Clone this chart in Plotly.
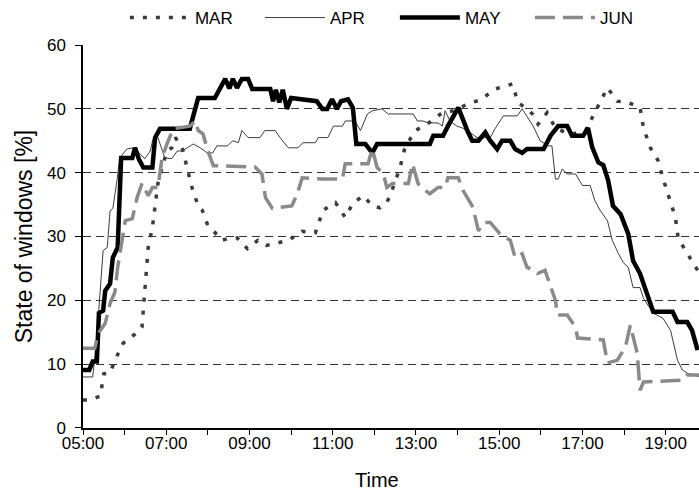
import plotly.graph_objects as go

# --- data (time of day, % of windows open) ---
mar_time = ["05:00", "05:10", "05:25", "05:30", "05:39", "05:46", "05:58", "06:15", "06:22", "06:25",
            "06:28", "06:31", "06:34", "06:40", "06:44", "06:48", "06:54", "07:01", "07:08", "07:13",
            "07:23", "07:30", "07:37", "07:46", "07:52", "08:00", "08:08", "08:20", "08:29", "08:42",
            "08:57", "09:12", "09:24", "09:37", "09:56", "10:16", "10:35", "10:46", "11:04", "11:18",
            "11:29", "11:44", "11:57", "12:08", "12:18", "12:27", "12:37", "12:44", "12:59", "13:16",
            "13:38", "13:54", "14:15", "14:33", "14:54", "15:19", "15:27", "15:40", "15:48", "15:56",
            "16:09", "16:21", "16:42", "17:04", "17:20", "17:36", "17:50", "18:06", "18:23", "18:28",
            "18:38", "18:49", "18:57", "19:07", "19:14", "19:18", "19:33", "19:46"]
mar_val = [4.4, 4.4, 5.0, 8.5, 8.6, 10.6, 13.3, 14.8, 15.3, 15.8,
           20.5, 25.2, 28.3, 31.4, 35.2, 38.3, 40.8, 43.4, 43.9, 45.5,
           43.9, 40.8, 37.7, 34.8, 34.1, 31.7, 30.9, 29.4, 29.7, 29.8,
           28.1, 29.4, 28.6, 28.9, 29.4, 30.8, 30.6, 34.1, 35.3, 33.0,
           35.2, 36.4, 34.8, 34.5, 35.3, 37.7, 40.8, 43.9, 46.6, 47.6,
           49.4, 49.7, 50.8, 51.4, 53.1, 53.9, 51.0, 50.0, 49.2, 47.6,
           49.4, 47.0, 46.0, 46.5, 50.0, 53.3, 51.2, 51.0, 50.2, 47.0,
           43.9, 41.9, 38.8, 35.6, 33.0, 29.7, 27.0, 24.7]

apr_time = ["05:00", "05:14", "05:17", "05:22", "05:29", "05:35", "05:39", "05:43", "05:49", "05:53",
            "06:03", "06:12", "06:22", "06:29", "06:37", "06:41", "06:48", "06:58", "07:08", "07:16",
            "07:23", "07:30", "07:39", "07:49", "07:59", "08:07", "08:13", "08:28", "08:36", "08:44",
            "08:49", "08:58", "09:15", "09:22", "09:37", "09:44", "09:56", "10:10", "10:17", "10:35",
            "10:39", "10:53", "11:01", "11:14", "11:18", "11:32", "11:40", "11:50", "11:57", "12:11",
            "12:20", "12:56", "13:02", "13:10", "13:18", "13:32", "13:38", "13:42", "13:49", "13:59",
            "14:07", "14:18", "14:28", "14:47", "14:54", "15:06", "15:26", "15:33", "15:40", "15:49",
            "15:59", "16:11", "16:16", "16:21", "16:25", "16:31", "16:38", "16:50", "17:00", "17:11",
            "17:18", "17:26", "17:36", "17:43", "17:52", "17:59", "18:06", "18:13", "18:23", "18:28",
            "18:42", "18:56", "19:07", "19:17", "19:24", "19:31", "19:49"]
apr_val = [8.0, 8.0, 11.1, 17.3, 27.8, 28.3, 34.0, 34.4, 38.8, 42.3,
           43.7, 43.9, 43.0, 42.2, 43.4, 45.3, 45.5, 42.3, 42.2, 43.4,
           43.4, 43.9, 44.5, 43.9, 43.1, 43.1, 44.2, 44.2, 45.0, 44.7,
           46.6, 45.5, 45.5, 46.6, 46.6, 45.5, 43.9, 43.9, 44.7, 44.7,
           45.5, 45.5, 47.3, 47.3, 48.1, 48.1, 46.6, 49.2, 49.7, 50.0,
           49.2, 49.2, 48.1, 48.1, 47.8, 47.8, 47.3, 49.7, 48.1, 47.3,
           47.0, 46.3, 45.5, 45.5, 46.9, 48.9, 48.9, 50.0, 48.9, 47.3,
           45.0, 44.2, 44.2, 39.0, 39.0, 40.6, 39.8, 39.8, 38.0, 38.0,
           35.6, 34.0, 32.5, 29.4, 27.3, 25.9, 25.2, 22.0, 22.0, 20.3,
           18.0, 17.2, 15.3, 10.6, 9.1, 8.6, 8.0]

may_time = ["05:00", "05:09", "05:14", "05:20", "05:23", "05:29", "05:32", "05:39", "05:43", "05:50",
            "05:55", "06:11", "06:15", "06:21", "06:27", "06:40", "06:44", "06:51", "07:34", "07:46",
            "08:10", "08:18", "08:25", "08:31", "08:36", "08:42", "08:49", "08:58", "09:04", "09:30",
            "09:34", "09:38", "09:43", "09:48", "09:54", "10:00", "10:37", "10:45", "10:52", "10:59",
            "11:06", "11:12", "11:22", "11:29", "11:34", "11:47", "11:57", "12:04", "13:20", "13:25",
            "13:39", "13:46", "14:01", "14:14", "14:21", "14:30", "14:40", "14:47", "14:57", "15:04",
            "15:16", "15:23", "15:33", "15:40", "16:04", "16:14", "16:25", "16:38", "16:45", "17:01",
            "17:08", "17:14", "17:23", "17:30", "17:37", "17:44", "17:55", "18:06", "18:13", "18:23",
            "18:33", "18:42", "19:10", "19:17", "19:31", "19:38", "19:46"]
may_val = [9.1, 9.1, 10.4, 10.4, 18.0, 18.4, 21.5, 22.6, 26.7, 28.3,
           42.3, 42.3, 43.9, 42.0, 40.8, 40.8, 45.5, 46.9, 46.9, 51.7,
           51.7, 53.3, 54.7, 53.2, 54.7, 53.3, 54.7, 54.7, 53.1, 53.1,
           51.2, 53.0, 51.0, 53.0, 50.0, 51.7, 51.2, 50.0, 50.0, 51.5,
           50.0, 51.2, 51.5, 50.2, 44.5, 44.5, 43.1, 44.5, 44.5, 45.8,
           45.8, 47.3, 50.2, 46.6, 45.0, 45.0, 46.3, 45.0, 43.7, 45.0,
           45.0, 43.7, 43.1, 43.7, 43.7, 45.8, 47.3, 47.3, 45.8, 45.8,
           47.0, 44.0, 41.6, 41.2, 38.8, 34.8, 33.5, 30.4, 26.2, 24.2,
           21.1, 18.2, 18.2, 16.6, 16.6, 15.3, 12.2]

jun_time = ["05:00", "05:17", "05:22", "05:32", "05:39", "05:46", "05:50", "05:56", "06:01", "06:11",
            "06:18", "06:25", "06:29", "06:34", "06:40", "06:48", "06:54", "07:01", "07:10", "07:34",
            "07:42", "07:46", "07:53", "08:00", "08:08", "09:08", "09:18", "09:23", "09:33", "10:01",
            "10:09", "10:16", "10:45", "11:14", "11:18", "11:51", "11:57", "12:04", "12:13", "12:18",
            "12:26", "12:49", "12:55", "13:03", "13:10", "13:20", "13:32", "13:42", "13:46", "14:01",
            "14:08", "14:18", "14:22", "14:30", "14:37", "14:47", "14:54", "15:01", "15:16", "15:23",
            "15:33", "15:40", "15:49", "15:55", "16:06", "16:14", "16:21", "16:24", "16:38", "16:50",
            "16:53", "17:30", "17:36", "17:50", "18:02", "18:09", "18:13", "18:19", "18:23", "18:28",
            "19:25", "19:31", "19:49"]
jun_val = [12.5, 12.5, 14.8, 16.4, 19.5, 21.3, 25.2, 28.9, 32.5, 32.8,
           36.1, 38.3, 37.5, 36.4, 37.7, 37.7, 42.3, 44.5, 46.9, 47.3,
           48.1, 46.6, 46.1, 43.4, 41.1, 40.9, 39.8, 36.1, 34.4, 34.8,
           36.7, 39.2, 39.0, 39.0, 41.4, 41.4, 43.8, 40.8, 39.8, 37.7,
           38.3, 38.3, 41.4, 38.3, 37.5, 36.7, 37.7, 37.7, 39.2, 39.2,
           37.2, 35.2, 34.6, 30.9, 32.2, 32.2, 31.4, 30.4, 29.4, 26.7,
           27.3, 25.2, 24.7, 24.2, 24.7, 22.0, 20.0, 17.7, 17.7, 15.8,
           14.1, 13.8, 10.2, 10.6, 12.7, 16.1, 14.2, 11.7, 5.9, 7.2,
           7.5, 8.3, 8.3]

tick_hours = list(range(5, 20))
tick_labels = [f"{h:02d}:00" if h % 2 == 1 else "" for h in tick_hours]


def to_hours(times):
    return [int(t[:2]) + int(t[3:]) / 60 for t in times]


FONT = "Liberation Sans, Arial, sans-serif"

fig = go.Figure()
series = [
    ("MAR", mar_time, mar_val, dict(color="#3c3c3c", width=3.5, dash="4px,9px")),
    ("APR", apr_time, apr_val, dict(color="#3c3c3c", width=1)),
    ("MAY", may_time, may_val, dict(color="#000000", width=4.5)),
    ("JUN", jun_time, jun_val, dict(color="#8a8a8a", width=3.5, dash="20px,8px")),
]
for name, t, v, line in series:
    fig.add_trace(go.Scatter(x=to_hours(t), y=v, mode="lines", name=name, line=line))

# x title as annotation so it can sit slightly left of centre like the original
fig.add_annotation(text="Time", xref="paper", yref="paper", x=0.477, y=-0.135,
                   xanchor="center", yanchor="middle", showarrow=False,
                   font=dict(size=20, family=FONT, color="black"))

fig.update_layout(
    width=699, height=494,
    paper_bgcolor="white", plot_bgcolor="white",
    margin=dict(l=83, r=0, t=44, b=66),
    font=dict(family=FONT, size=17, color="black"),
    showlegend=True,
    legend=dict(orientation="h", x=0.068, xanchor="left",
                yref="container", y=1.0, yanchor="top",
                itemwidth=60, entrywidth=60, font=dict(size=17),
                bgcolor="rgba(0,0,0,0)", tracegroupgap=0),
    xaxis=dict(range=[5, 19.8], tickvals=tick_hours, ticktext=tick_labels,
               showgrid=False, zeroline=False, showline=True, linecolor="black", linewidth=1.5,
               ticks="outside", ticklen=5, tickcolor="black", ticklabelstandoff=-6,
               tickfont=dict(size=17)),
    yaxis=dict(range=[0, 60], tickvals=[0, 10, 20, 30, 40, 50, 60],
               showgrid=True, gridcolor="#333333", griddash="8px,5px", gridwidth=1,
               zeroline=False, showline=True, linecolor="black", linewidth=1.5,
               ticks="outside", ticklen=6, tickcolor="black", ticklabelstandoff=6,
               title=dict(text="State of windows [%]", font=dict(size=23), standoff=8),
               tickfont=dict(size=17)),
)

fig.write_html("out.html", config={"displayModeBar": False},
               post_script="document.body.style.margin='0';")
